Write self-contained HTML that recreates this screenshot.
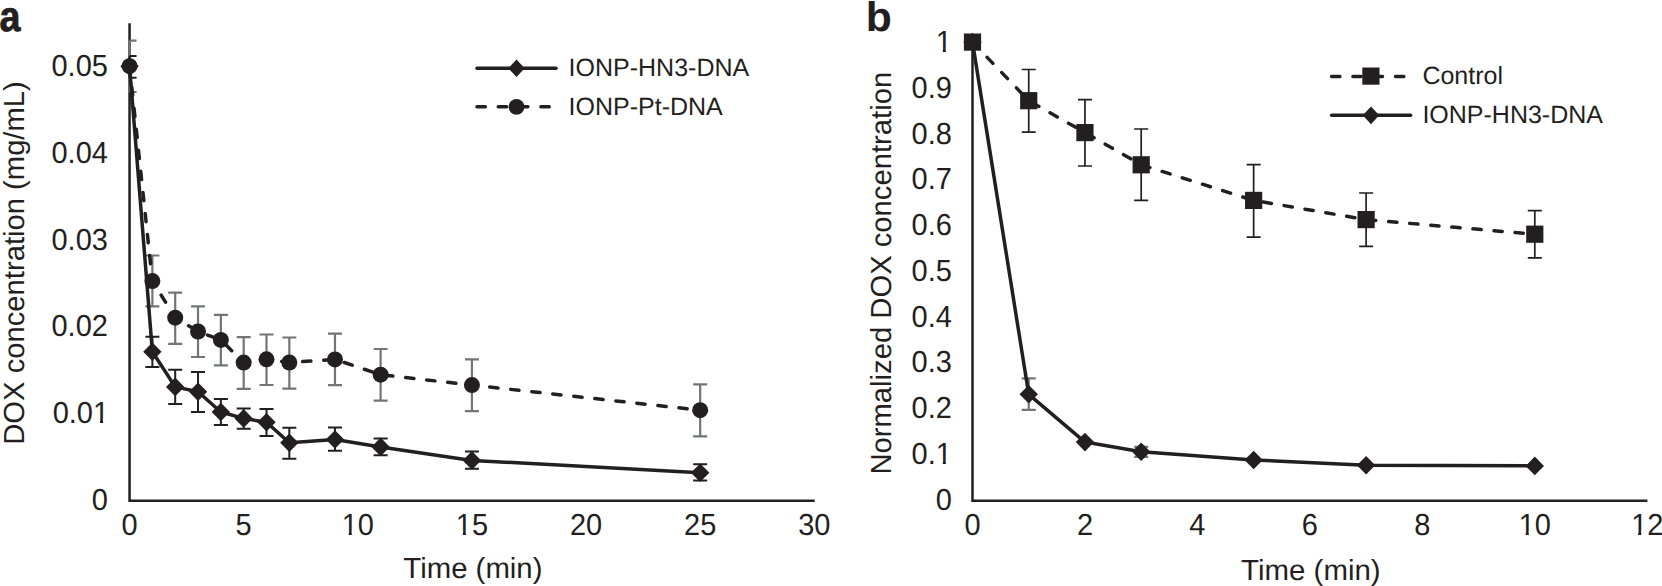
<!DOCTYPE html>
<html lang="en">
<head>
<meta charset="utf-8">
<title>DOX concentration over time</title>
<style>
html,body{margin:0;padding:0;background:#fff;}
body{width:1662px;height:586px;overflow:hidden;}
svg{display:block;}
svg text{font-family:"Liberation Sans", sans-serif;font-size:29px;fill:#231f20;text-rendering:geometricPrecision;}
</style>
</head>
<body>
<svg width="1662" height="586" viewBox="0 0 1662 586">
<rect width="1662" height="586" fill="#ffffff"/>
<g id="chart-a">
<path d="M129.55 23.2V500.7H814.7" fill="none" stroke="#231f20" stroke-width="2.5" stroke-linejoin="miter"/>
<path d="M129.55 40.6V92M129.55 40.6H136.55M129.55 92H136.55M152.38 255.5V306.4M145.38 255.5H159.38M145.38 306.4H159.38M175.2 292.6V343.9M168.2 292.6H182.2M168.2 343.9H182.2M198.03 306.4V357M191.03 306.4H205.03M191.03 357H205.03M220.85 314.8V365.4M213.85 314.8H227.85M213.85 365.4H227.85M243.68 337.2V388.8M236.68 337.2H250.68M236.68 388.8H250.68M266.5 334.5V385M259.5 334.5H273.5M259.5 385H273.5M289.33 337.5V388.7M282.33 337.5H296.33M282.33 388.7H296.33M334.98 333.7V385.1M327.98 333.7H341.98M327.98 385.1H341.98M380.62 349V400.6M373.62 349H387.62M373.62 400.6H387.62M471.93 359.4V411.1M464.93 359.4H478.93M464.93 411.1H478.93M700.17 384.3V436.4M693.17 384.3H707.17M693.17 436.4H707.17" fill="none" stroke="#737477" stroke-width="2.2"/>
<path d="M129.55 56V77.7M129.55 56H136.55M129.55 77.7H136.55M152.38 336.7V367M145.38 336.7H159.38M145.38 367H159.38M175.2 369.7V404.1M168.2 369.7H182.2M168.2 404.1H182.2M198.03 371.9V412M191.03 371.9H205.03M191.03 412H205.03M220.85 398.9V425.1M213.85 398.9H227.85M213.85 425.1H227.85M243.68 408.4V428.7M236.68 408.4H250.68M236.68 428.7H250.68M266.5 409.1V435.9M259.5 409.1H273.5M259.5 435.9H273.5M289.33 427.7V458.8M282.33 427.7H296.33M282.33 458.8H296.33M334.98 427.5V450.8M327.98 427.5H341.98M327.98 450.8H341.98M380.62 438.6V455.3M373.62 438.6H387.62M373.62 455.3H387.62M471.93 451.4V468.7M464.93 451.4H478.93M464.93 468.7H478.93M700.17 464.2V480.4M693.17 464.2H707.17M693.17 480.4H707.17" fill="none" stroke="#231f20" stroke-width="2.0"/>
<path d="M129.55 66.2L152.38 351.8L175.2 386.9L198.03 391.7L220.85 412L243.68 418.4L266.5 422.3L289.33 442.8L334.98 439.5L380.62 446.9L471.93 460.4L700.17 472.7" fill="none" stroke="#231f20" stroke-width="3.5" stroke-linecap="round" stroke-linejoin="round"/>
<path d="M129.55 56.9L138.75 66.2L129.55 75.5L120.35 66.2Z" fill="#231f20"/>
<path d="M152.38 342.5L161.57 351.8L152.38 361.1L143.18 351.8Z" fill="#231f20"/>
<path d="M175.2 377.6L184.4 386.9L175.2 396.2L166 386.9Z" fill="#231f20"/>
<path d="M198.03 382.4L207.22 391.7L198.03 401L188.83 391.7Z" fill="#231f20"/>
<path d="M220.85 402.7L230.05 412L220.85 421.3L211.65 412Z" fill="#231f20"/>
<path d="M243.68 409.1L252.88 418.4L243.68 427.7L234.48 418.4Z" fill="#231f20"/>
<path d="M266.5 413L275.7 422.3L266.5 431.6L257.3 422.3Z" fill="#231f20"/>
<path d="M289.33 433.5L298.53 442.8L289.33 452.1L280.13 442.8Z" fill="#231f20"/>
<path d="M334.98 430.2L344.18 439.5L334.98 448.8L325.78 439.5Z" fill="#231f20"/>
<path d="M380.62 437.6L389.82 446.9L380.62 456.2L371.43 446.9Z" fill="#231f20"/>
<path d="M471.93 451.1L481.12 460.4L471.93 469.7L462.73 460.4Z" fill="#231f20"/>
<path d="M700.17 463.4L709.38 472.7L700.17 482L690.97 472.7Z" fill="#231f20"/>
<path d="M129.55 66.2L152.38 281.1L175.2 317.7L198.03 331.5L220.85 339.9L243.68 362.6L266.5 359.3L289.33 362.5L334.98 359.4L380.62 374.7L471.93 385.1L700.17 410.2" fill="none" stroke="#231f20" stroke-width="3.5" stroke-linecap="round" stroke-linejoin="round" stroke-dasharray="8.3 12.85"/>
<circle cx="129.55" cy="66.2" r="8" fill="#231f20"/>
<circle cx="152.38" cy="281.1" r="8" fill="#231f20"/>
<circle cx="175.2" cy="317.7" r="8" fill="#231f20"/>
<circle cx="198.03" cy="331.5" r="8" fill="#231f20"/>
<circle cx="220.85" cy="339.9" r="8" fill="#231f20"/>
<circle cx="243.68" cy="362.6" r="8" fill="#231f20"/>
<circle cx="266.5" cy="359.3" r="8" fill="#231f20"/>
<circle cx="289.33" cy="362.5" r="8" fill="#231f20"/>
<circle cx="334.98" cy="359.4" r="8" fill="#231f20"/>
<circle cx="380.62" cy="374.7" r="8" fill="#231f20"/>
<circle cx="471.93" cy="385.1" r="8" fill="#231f20"/>
<circle cx="700.17" cy="410.2" r="8" fill="#231f20"/>
<text x="0" y="0" transform="translate(107.9 509.8) scale(1 1.05)" text-anchor="end">0</text>
<text x="0" y="0" transform="translate(109.1 423.1) scale(1 1.05)" text-anchor="end">0.01</text>
<rect x="94.18" y="419.03" width="5.83" height="4.87" fill="#fff"/>
<rect x="103.08" y="419.03" width="5.61" height="4.87" fill="#fff"/>
<text x="0" y="0" transform="translate(107.9 336.4) scale(1 1.05)" text-anchor="end">0.02</text>
<text x="0" y="0" transform="translate(107.9 249.7) scale(1 1.05)" text-anchor="end">0.03</text>
<text x="0" y="0" transform="translate(107.9 163) scale(1 1.05)" text-anchor="end">0.04</text>
<text x="0" y="0" transform="translate(107.9 76.3) scale(1 1.05)" text-anchor="end">0.05</text>
<text x="0" y="0" transform="translate(129.55 534.7) scale(1 1.05)" text-anchor="middle">0</text>
<text x="0" y="0" transform="translate(243.68 534.7) scale(1 1.05)" text-anchor="middle">5</text>
<text x="0" y="0" transform="translate(357.8 534.7) scale(1 1.05)" text-anchor="middle">10</text>
<rect x="342.88" y="530.63" width="5.83" height="4.87" fill="#fff"/>
<rect x="351.78" y="530.63" width="5.61" height="4.87" fill="#fff"/>
<text x="0" y="0" transform="translate(471.93 534.7) scale(1 1.05)" text-anchor="middle">15</text>
<rect x="457.01" y="530.63" width="5.83" height="4.87" fill="#fff"/>
<rect x="465.9" y="530.63" width="5.61" height="4.87" fill="#fff"/>
<text x="0" y="0" transform="translate(586.05 534.7) scale(1 1.05)" text-anchor="middle">20</text>
<text x="0" y="0" transform="translate(700.17 534.7) scale(1 1.05)" text-anchor="middle">25</text>
<text x="0" y="0" transform="translate(814.3 534.7) scale(1 1.05)" text-anchor="middle">30</text>
<text x="0" y="0" transform="translate(472.9 577.6) scale(1.012 1)" text-anchor="middle">Time (min)</text>
<text x="0" y="0" transform="translate(24.1 263) rotate(-90) scale(1.007 1)" text-anchor="middle">DOX concentration (mg/mL)</text>
<path d="M477 68.2H556" stroke="#231f20" stroke-width="3.5" stroke-linecap="round"/>
<path d="M516.5 59.4L524.7 68.2L516.5 77L508.3 68.2Z" fill="#231f20"/>
<text x="568.6" y="76.2" style="font-size:25px;">IONP-HN3-DNA</text>
<path d="M477 106.8H556" stroke="#231f20" stroke-width="3.5" stroke-linecap="round" stroke-dasharray="8.3 13"/>
<circle cx="516.5" cy="106.8" r="7.9" fill="#231f20"/>
<text x="568.6" y="114.5" style="font-size:25px;">IONP-Pt-DNA</text>
<text x="0" y="0" transform="translate(-0.5 30.8) scale(0.885 1)" style="font-size:42.6px;font-weight:bold;stroke:#231f20;stroke-width:0.8px;">a</text>
</g>
<g id="chart-b">
<path d="M972.5 42V500.7H1647.4" fill="none" stroke="#231f20" stroke-width="2.5" stroke-linejoin="miter"/>
<path d="M1028.73 378.3V409.9M1021.73 378.3H1035.73M1021.73 409.9H1035.73M1141.19 446.8V456.9M1134.19 446.8H1148.19M1134.19 456.9H1148.19" fill="none" stroke="#737477" stroke-width="2.2"/>
<path d="M972.5 42.1L1028.73 394.3L1084.96 442.1L1141.19 451.7L1253.65 460L1366.11 465.3L1534.8 465.9" fill="none" stroke="#231f20" stroke-width="3.5" stroke-linecap="round" stroke-linejoin="round"/>
<path d="M972.5 32.8L981.7 42.1L972.5 51.4L963.3 42.1Z" fill="#231f20"/>
<path d="M1028.73 385L1037.93 394.3L1028.73 403.6L1019.53 394.3Z" fill="#231f20"/>
<path d="M1084.96 432.8L1094.16 442.1L1084.96 451.4L1075.76 442.1Z" fill="#231f20"/>
<path d="M1141.19 442.4L1150.39 451.7L1141.19 461L1131.99 451.7Z" fill="#231f20"/>
<path d="M1253.65 450.7L1262.85 460L1253.65 469.3L1244.45 460Z" fill="#231f20"/>
<path d="M1366.11 456L1375.31 465.3L1366.11 474.6L1356.91 465.3Z" fill="#231f20"/>
<path d="M1534.8 456.6L1544 465.9L1534.8 475.2L1525.6 465.9Z" fill="#231f20"/>
<path d="M1028.73 69.5V132.2M1021.73 69.5H1035.73M1021.73 132.2H1035.73M1084.96 99.7V166M1077.96 99.7H1091.96M1077.96 166H1091.96M1141.19 129V200.4M1134.19 129H1148.19M1134.19 200.4H1148.19M1253.65 164.6V237.1M1246.65 164.6H1260.65M1246.65 237.1H1260.65M1366.11 193V246.3M1359.11 193H1373.11M1359.11 246.3H1373.11M1534.8 210.6V257.9M1527.8 210.6H1541.8M1527.8 257.9H1541.8" fill="none" stroke="#231f20" stroke-width="1.7"/>
<path d="M972.5 42.1L1028.73 100.7L1084.96 132.6L1141.19 164.8L1253.65 200.4L1366.11 219.6L1534.8 234.2" fill="none" stroke="#231f20" stroke-width="3.5" stroke-linecap="round" stroke-linejoin="round" stroke-dasharray="8.3 12.85"/>
<rect x="963.9" y="33.5" width="17.2" height="17.2" fill="#231f20"/>
<rect x="1020.13" y="92.1" width="17.2" height="17.2" fill="#231f20"/>
<rect x="1076.36" y="124" width="17.2" height="17.2" fill="#231f20"/>
<rect x="1132.59" y="156.2" width="17.2" height="17.2" fill="#231f20"/>
<rect x="1245.05" y="191.8" width="17.2" height="17.2" fill="#231f20"/>
<rect x="1357.51" y="211" width="17.2" height="17.2" fill="#231f20"/>
<rect x="1526.2" y="225.6" width="17.2" height="17.2" fill="#231f20"/>
<text x="0" y="0" transform="translate(951.9 509.7) scale(1 1.05)" text-anchor="end">0</text>
<text x="0" y="0" transform="translate(951.9 463.93) scale(1 1.05)" text-anchor="end">0.1</text>
<rect x="936.98" y="459.86" width="5.83" height="4.87" fill="#fff"/>
<rect x="945.88" y="459.86" width="5.61" height="4.87" fill="#fff"/>
<text x="0" y="0" transform="translate(951.9 418.16) scale(1 1.05)" text-anchor="end">0.2</text>
<text x="0" y="0" transform="translate(951.9 372.39) scale(1 1.05)" text-anchor="end">0.3</text>
<text x="0" y="0" transform="translate(951.9 326.62) scale(1 1.05)" text-anchor="end">0.4</text>
<text x="0" y="0" transform="translate(951.9 280.85) scale(1 1.05)" text-anchor="end">0.5</text>
<text x="0" y="0" transform="translate(951.9 235.08) scale(1 1.05)" text-anchor="end">0.6</text>
<text x="0" y="0" transform="translate(951.9 189.31) scale(1 1.05)" text-anchor="end">0.7</text>
<text x="0" y="0" transform="translate(951.9 143.54) scale(1 1.05)" text-anchor="end">0.8</text>
<text x="0" y="0" transform="translate(951.9 97.77) scale(1 1.05)" text-anchor="end">0.9</text>
<text x="0" y="0" transform="translate(951.9 52) scale(1 1.05)" text-anchor="end">1</text>
<rect x="936.98" y="47.93" width="5.83" height="4.87" fill="#fff"/>
<rect x="945.88" y="47.93" width="5.61" height="4.87" fill="#fff"/>
<text x="0" y="0" transform="translate(972.5 535.3) scale(1 1.05)" text-anchor="middle">0</text>
<text x="0" y="0" transform="translate(1084.96 535.3) scale(1 1.05)" text-anchor="middle">2</text>
<text x="0" y="0" transform="translate(1197.42 535.3) scale(1 1.05)" text-anchor="middle">4</text>
<text x="0" y="0" transform="translate(1309.88 535.3) scale(1 1.05)" text-anchor="middle">6</text>
<text x="0" y="0" transform="translate(1422.34 535.3) scale(1 1.05)" text-anchor="middle">8</text>
<text x="0" y="0" transform="translate(1534.8 535.3) scale(1 1.05)" text-anchor="middle">10</text>
<rect x="1519.88" y="531.23" width="5.83" height="4.87" fill="#fff"/>
<rect x="1528.78" y="531.23" width="5.61" height="4.87" fill="#fff"/>
<text x="0" y="0" transform="translate(1647.26 535.3) scale(1 1.05)" text-anchor="middle">12</text>
<rect x="1632.34" y="531.23" width="5.83" height="4.87" fill="#fff"/>
<rect x="1641.24" y="531.23" width="5.61" height="4.87" fill="#fff"/>
<text x="0" y="0" transform="translate(1310.85 579.6) scale(1.015 1)" text-anchor="middle">Time (min)</text>
<text x="0" y="0" transform="translate(891.1 273.2) rotate(-90) scale(1.0075 1)" text-anchor="middle">Normalized DOX concentration</text>
<path d="M1331.6 76.4H1410" stroke="#231f20" stroke-width="3.5" stroke-linecap="round" stroke-dasharray="8.3 13"/>
<rect x="1362.3" y="67.5" width="17.2" height="17.2" fill="#231f20"/>
<text x="1422.4" y="84" style="font-size:25px;">Control</text>
<path d="M1331.6 115.3H1410.6" stroke="#231f20" stroke-width="3.5" stroke-linecap="round"/>
<path d="M1371 106.4L1379.2 115.3L1371 124.2L1362.8 115.3Z" fill="#231f20"/>
<text x="1422.4" y="123.2" style="font-size:25px;">IONP-HN3-DNA</text>
<text x="0" y="0" transform="translate(865.7 30.7) scale(1.033 1)" style="font-size:41.3px;font-weight:bold;">b</text>
</g>
</svg>
</body>
</html>
